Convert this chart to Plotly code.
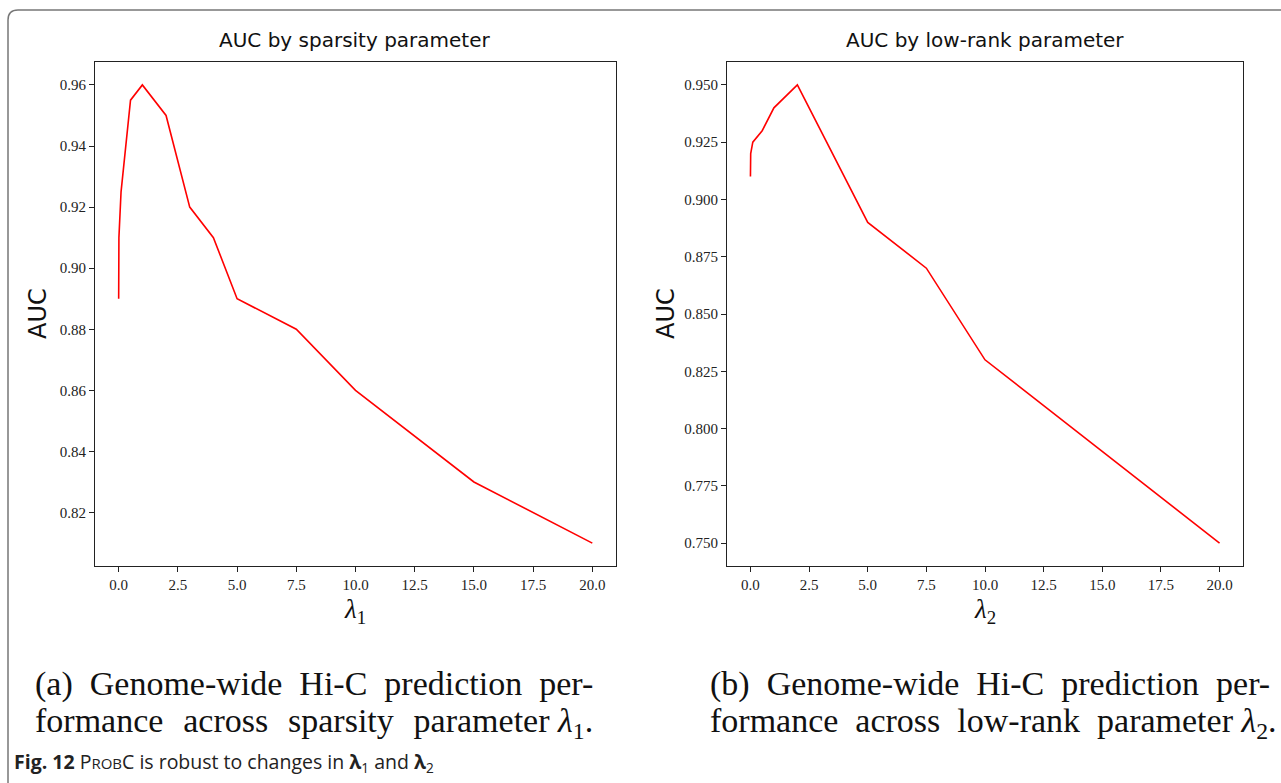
import plotly.graph_objects as go

W, H = 1281, 783

lam1 = [0, 0.01, 0.1, 0.5, 1, 2, 3, 4, 5, 7.5, 10, 15, 20]
auc1 = [0.89, 0.91, 0.925, 0.955, 0.96, 0.95, 0.92, 0.91, 0.89, 0.88, 0.86, 0.83, 0.81]
lam2 = [0, 0.01, 0.1, 0.5, 1, 2, 5, 7.5, 10, 15, 20]
auc2 = [0.91, 0.92, 0.925, 0.93, 0.94, 0.95, 0.89, 0.87, 0.83, 0.79, 0.75]

xticks = [0, 2.5, 5, 7.5, 10, 12.5, 15, 17.5, 20]
yticks1 = [0.82, 0.84, 0.86, 0.88, 0.90, 0.92, 0.94, 0.96]
yticks2 = [0.750, 0.775, 0.800, 0.825, 0.850, 0.875, 0.900, 0.925, 0.950]

def px(x):
    return x / W

def py(y):
    return 1 - y / H

fig = go.Figure()
fig.add_trace(go.Scatter(x=lam1, y=auc1, mode="lines", line=dict(color="#ff0000", width=1.6),
                         xaxis="x", yaxis="y", showlegend=False))
fig.add_trace(go.Scatter(x=lam2, y=auc2, mode="lines", line=dict(color="#ff0000", width=1.6),
                         xaxis="x2", yaxis="y2", showlegend=False))

serif = "Liberation Serif"
sans = "DejaVu Sans"

axcommon = dict(showline=True, mirror=True, linecolor="#222", linewidth=1, ticks="outside",
                ticklen=5, tickcolor="#222", showgrid=False, zeroline=False,
                tickfont=dict(family=serif, size=15, color="#222"))

fig.update_layout(
    width=W, height=H, margin=dict(l=0, r=0, t=0, b=0),
    paper_bgcolor="white", plot_bgcolor="white",
    xaxis=dict(domain=[px(95), px(616)], range=[-1, 21], anchor="y", tickvals=xticks,
               tickformat=".1f", **axcommon),
    yaxis=dict(domain=[py(566), py(62)], range=[0.8025, 0.9675], anchor="x", tickvals=yticks1,
               tickformat=".2f", **axcommon),
    xaxis2=dict(domain=[px(727), px(1243)], range=[-1, 21], anchor="y2", tickvals=xticks,
                tickformat=".1f", **axcommon),
    yaxis2=dict(domain=[py(566), py(62)], range=[0.74, 0.96], anchor="x2", tickvals=yticks2,
                tickformat=".3f", **axcommon),
)

ann = []
# titles
ann.append(dict(text="AUC by sparsity parameter", x=px(355), y=py(40), xref="paper", yref="paper",
                showarrow=False, font=dict(family=sans, size=20, color="#111"), xanchor="center", yanchor="middle"))
ann.append(dict(text="AUC by low-rank parameter", x=px(985), y=py(40), xref="paper", yref="paper",
                showarrow=False, font=dict(family=sans, size=20, color="#111"), xanchor="center", yanchor="middle"))
# y titles
ann.append(dict(text="AUC", x=px(38), y=py(314), xref="paper", yref="paper", textangle=-90,
                showarrow=False, font=dict(family=sans, size=24, color="#111"), xanchor="center", yanchor="middle"))
ann.append(dict(text="AUC", x=px(666), y=py(314), xref="paper", yref="paper", textangle=-90,
                showarrow=False, font=dict(family=sans, size=24, color="#111"), xanchor="center", yanchor="middle"))
# x titles
ann.append(dict(text="<i>λ</i><sub>1</sub>", x=px(355), y=py(606), xref="paper", yref="paper",
                showarrow=False, font=dict(family=serif, size=27, color="#111"), xanchor="center", yanchor="top", yshift=14))
ann.append(dict(text="<i>λ</i><sub>2</sub>", x=px(985), y=py(606), xref="paper", yref="paper",
                showarrow=False, font=dict(family=serif, size=27, color="#111"), xanchor="center", yanchor="top", yshift=14))
# captions (extra spacing emulates justified text)
capfont = dict(family=serif, size=34, color="#111")
s4 = "\u2005"
s3 = "\u2004"
ann.append(dict(text=f"(a){s4} Genome-wide{s4} Hi-C{s4} prediction{s4} per-", x=px(33), y=py(684), xref="paper", yref="paper",
                showarrow=False, font=capfont, xanchor="left", yanchor="middle"))
ann.append(dict(text=f"formance{s3} across{s3} sparsity{s3} parameter <i>λ</i><sub>1</sub>.", x=px(33), y=py(723), xref="paper", yref="paper",
                showarrow=False, font=capfont, xanchor="left", yanchor="middle"))
ann.append(dict(text=f"(b){s4} Genome-wide{s4} Hi-C{s4} prediction{s4} per-", x=px(708), y=py(684), xref="paper", yref="paper",
                showarrow=False, font=capfont, xanchor="left", yanchor="middle"))
ann.append(dict(text=f"formance{s4} across{s4} low-rank{s4} parameter <i>λ</i><sub>2</sub>.", x=px(708), y=py(723), xref="paper", yref="paper",
                showarrow=False, font=capfont, xanchor="left", yanchor="middle"))
# figure caption
ann.append(dict(text="<b>Fig. 12</b> P<span style='font-size:15px'>ROB</span>C is robust to changes in <b>λ</b><sub>1</sub> and <b>λ</b><sub>2</sub>",
                x=px(12), y=py(762), xref="paper", yref="paper", showarrow=False,
                font=dict(family="Open Sans", size=19.5, color="#222"), xanchor="left", yanchor="middle"))
fig.update_layout(annotations=ann)

# frame border
x0, y0, r = 8, 10, 10
path = (f"M {px(x0)},{py(H+5)} L {px(x0)},{py(y0+r)} "
        f"Q {px(x0)},{py(y0)} {px(x0+r)},{py(y0)} L {px(W+5)},{py(y0)}")
fig.add_shape(type="path", path=path, xref="paper", yref="paper",
              line=dict(color="#777", width=1.5))

fig.write_html("out.html")
